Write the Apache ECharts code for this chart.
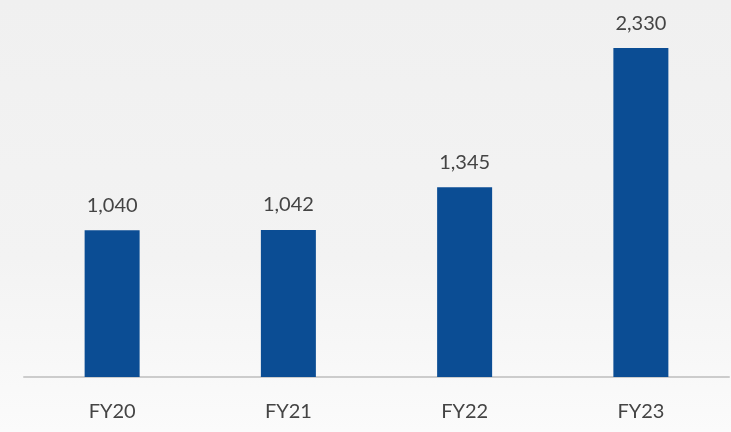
<!DOCTYPE html>
<html>
<head>
<meta charset="utf-8">
<script src="https://cdn.jsdelivr.net/npm/echarts@6/dist/echarts.min.js"></script>
<style>
  html, body { margin: 0; padding: 0; }
  #chart { width: 731px; height: 432px; }
</style>
</head>
<body>
<div id="chart"></div>
<script>
var categories = ['FY20', 'FY21', 'FY22', 'FY23'];
var values = [1040, 1042, 1345, 2330];

var myChart = echarts.init(document.getElementById('chart'));
var option = {
  backgroundColor: {
    type: 'linear', x: 0, y: 0, x2: 0, y2: 1,
    colorStops: [
      { offset: 0, color: '#f0f0f0' },
      { offset: 0.6, color: '#f3f3f3' },
      { offset: 1, color: '#fbfbfb' }
    ]
  },
  grid: { left: 24, right: 2, top: 10, bottom: 55 },
  xAxis: {
    type: 'category',
    data: categories,
    axisLine: { lineStyle: { color: '#cccccc', width: 2 } },
    axisTick: { show: false },
    axisLabel: { color: '#444', fontSize: 20, fontFamily: 'Lato', margin: 25 }
  },
  yAxis: {
    type: 'value',
    min: 0,
    max: 2600,
    show: false,
    splitLine: { show: false }
  },
  series: [{
    type: 'bar',
    data: values,
    barWidth: 55,
    itemStyle: { color: '#0b4d94' },
    label: {
      show: true,
      position: 'top',
      distance: 15,
      color: '#444',
      fontSize: 20,
      fontFamily: 'Lato',
      formatter: function (p) { return p.value.toLocaleString('en-US'); }
    }
  }]
};
myChart.setOption(option);
</script>
</body>
</html>
